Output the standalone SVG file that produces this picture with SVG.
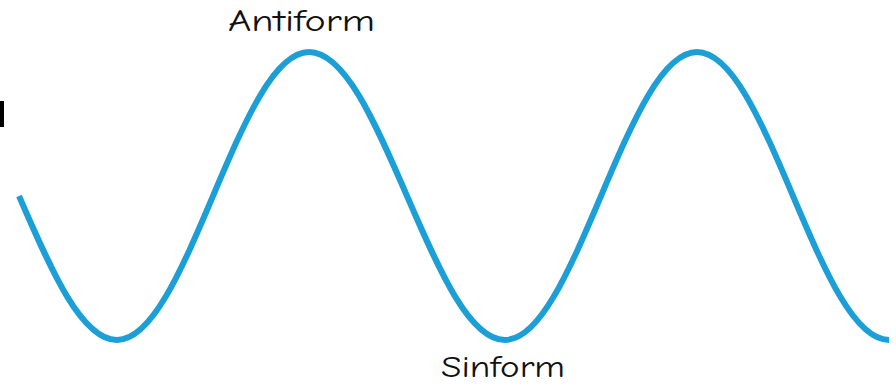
<svg xmlns="http://www.w3.org/2000/svg" width="896" height="388" viewBox="0 0 896 388">
<style>
.lbl{font-family:"Comic Neue","Liberation Sans",sans-serif;font-size:30px;fill:#111;}
.wave{fill:none;stroke:#1b9fd6;stroke-width:6;}
</style>
<rect width="896" height="388" fill="#ffffff"/>
<rect x="0" y="101" width="4" height="26" fill="#000"/>
<g id="wave">
<path class="wave" d="M19,196 C51.7,271.6 81.7,340 117,340 C151.6,340 180.9,271.6 213,196 C245.1,120.4 274.4,52 309,52 C344.3,52 374.3,120.4 407,196 C439.7,271.6 469.7,340 505,340 C539.6,340 568.9,271.6 601,196 C633.1,120.4 662.4,52 697,52 C731.6,52 760.9,120.4 793,196 C825.1,271.6 854.4,340 889,340"/>
</g>
<g id="antiform"><text class="lbl" x="228" y="31" textLength="147" lengthAdjust="spacingAndGlyphs">Antiform</text></g>
<g id="sinform"><text class="lbl" x="441" y="377" textLength="124" lengthAdjust="spacingAndGlyphs">Sinform</text></g>
</svg>
